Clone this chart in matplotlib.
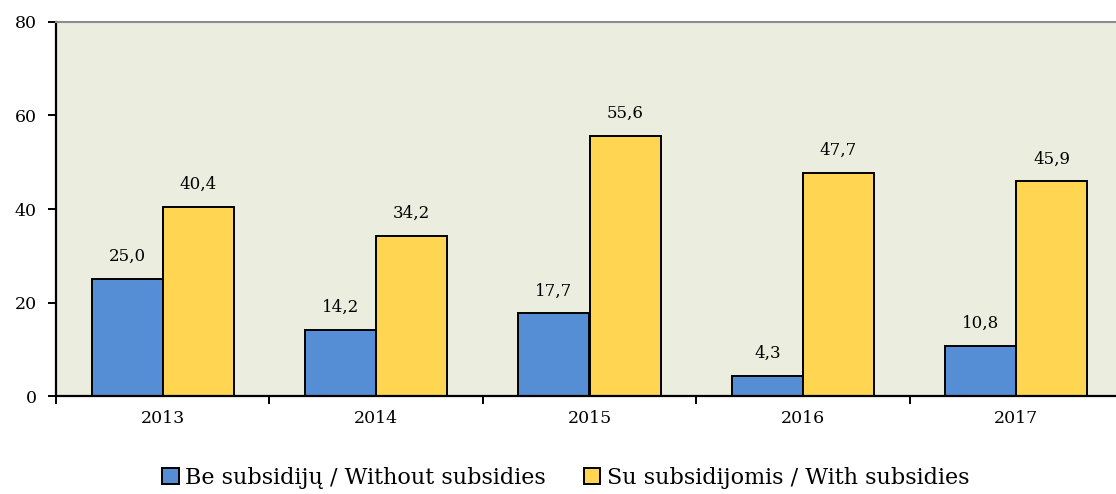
import matplotlib
matplotlib.use("Agg")
import matplotlib.pyplot as plt
import numpy as np

years = ["2013", "2014", "2015", "2016", "2017"]
without_subsidies = [25.0, 14.2, 17.7, 4.3, 10.8]
with_subsidies = [40.4, 34.2, 55.6, 47.7, 45.9]
labels = ["Be subsidijų / Without subsidies", "Su subsidijomis / With subsidies"]
yticks = [0, 20, 40, 60, 80]

plt.rcParams['font.family'] = ['DejaVu Serif']

fig = plt.figure(figsize=(11.16, 4.94), dpi=100)
ax = fig.add_axes([56/1116, 98/494, (1123-56)/1116, (396-22)/494])
ax.set_facecolor('#EBEEDE')

x = np.arange(len(years))
w = 0.333
b1 = ax.bar(x - w/2, without_subsidies, w, color='#558ED5', edgecolor='black', linewidth=1.4, label=labels[0])
b2 = ax.bar(x + w/2, with_subsidies, w, color='#FFD551', edgecolor='black', linewidth=1.4, label=labels[1])

for bars, vals in ((b1, without_subsidies), (b2, with_subsidies)):
    for r, v in zip(bars, vals):
        ax.annotate(f"{v:.1f}".replace('.', ','), (r.get_x() + r.get_width()/2, v),
                    xytext=(0, 10), textcoords='offset points', ha='center', va='bottom',
                    fontsize=12)

ax.set_xlim(-0.5, len(years) - 0.5)
ax.set_ylim(0, 80)
ax.set_yticks(yticks)
ax.set_yticklabels([str(t) for t in yticks], fontsize=12.5)
ax.set_xticks(x)
ax.set_xticklabels(years, fontsize=12.5)
ax.tick_params(axis='x', length=0, pad=10)
ax.set_xticks(np.arange(-0.5, len(years)), minor=True)
ax.tick_params(axis='x', which='minor', length=6, width=1.4, direction='out')
ax.tick_params(axis='y', length=6, width=1.4, direction='out', pad=8)

ax.spines['left'].set_linewidth(1.6)
ax.spines['bottom'].set_linewidth(1.6)
ax.spines['top'].set_color('#8c8c8c')
ax.spines['top'].set_linewidth(1.5)
ax.spines['right'].set_visible(False)

leg = fig.legend(handles=[b1, b2], labels=labels, loc='center', bbox_to_anchor=(0.507, 1 - 478/494),
                 ncol=2, frameon=False, fontsize=16, handlelength=0.75, handleheight=0.75,
                 handletextpad=0.3, columnspacing=1.7)

fig.savefig("out.png", dpi=100)
